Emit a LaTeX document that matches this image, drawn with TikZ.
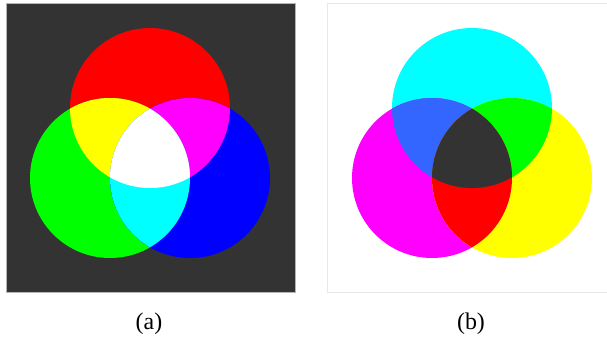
\documentclass[tikz,border=0pt]{standalone}
\usepackage{fontspec}
\setmainfont{Liberation Serif}
\definecolor{bgdark}{HTML}{333333}
\definecolor{frameA}{HTML}{B4B4B4}
\definecolor{frameB}{HTML}{E8E8E8}
\definecolor{cR}{rgb}{1,0,0}
\definecolor{cG}{rgb}{0,1,0}
\definecolor{cB}{rgb}{0,0,1}
\definecolor{cC}{rgb}{0,1,1}
\definecolor{cM}{rgb}{1,0,1}
\definecolor{cY}{rgb}{1,1,0}
\definecolor{cW}{rgb}{1,1,1}
\definecolor{cBlueish}{HTML}{3366FF}
\tikzset{
  disc/.style={radius=80bp},
  caption/.style={font=\fontsize{24}{26}\selectfont, inner sep=0pt}
}
\begin{document}
\begin{tikzpicture}[x=1bp,y=-1bp]
\useasboundingbox (0,0) rectangle (607,337);
% panel (a)
\fill[bgdark] (6,3) rectangle (295,292);
\draw[frameA, line width=1bp] (6,3) rectangle (295,292);
\coordinate (aR) at (150,108);
\coordinate (aG) at (110,178);
\coordinate (aB) at (190,178);
\fill[cR] (aR) circle[disc];
\fill[cG] (aG) circle[disc];
\fill[cB] (aB) circle[disc];
\begin{scope}
  \clip (aR) circle[disc];
  \fill[cY] (aG) circle[disc];
  \fill[cM] (aB) circle[disc];
\end{scope}
\begin{scope}
  \clip (aG) circle[disc];
  \fill[cC] (aB) circle[disc];
  \clip (aR) circle[disc];
  \fill[cW] (aB) circle[disc];
\end{scope}
% panel (b)
\fill[white] (327.5,3.5) rectangle (608,292);
\draw[frameB, line width=1bp] (608,3.5) -- (327.5,3.5) -- (327.5,292) -- (608,292);
\coordinate (bC) at (472,108);
\coordinate (bM) at (432,178);
\coordinate (bY) at (512,178);
\fill[cC] (bC) circle[disc];
\fill[cM] (bM) circle[disc];
\fill[cY] (bY) circle[disc];
\begin{scope}
  \clip (bC) circle[disc];
  \fill[cBlueish] (bM) circle[disc];
  \fill[cG] (bY) circle[disc];
\end{scope}
\begin{scope}
  \clip (bM) circle[disc];
  \fill[cR] (bY) circle[disc];
  \clip (bC) circle[disc];
  \fill[bgdark] (bY) circle[disc];
\end{scope}
% captions
\node[caption] (capA) at (149,324) {(a)};
\node[caption] (capB) at (471,324) {(b)};
\end{tikzpicture}
\end{document}
